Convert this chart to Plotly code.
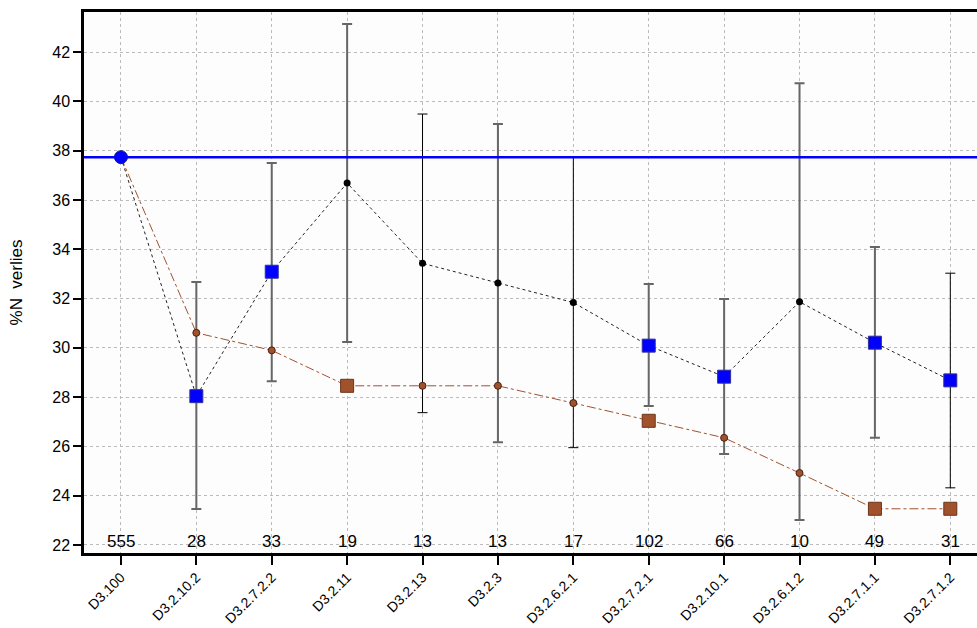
import plotly.graph_objects as go

categories = ["D3.100", "D3.2.10.2", "D3.2.7.2.2", "D3.2.11", "D3.2.13", "D3.2.3",
              "D3.2.6.2.1", "D3.2.7.2.1", "D3.2.10.1", "D3.2.6.1.2", "D3.2.7.1.1", "D3.2.7.1.2"]
counts = [555, 28, 33, 19, 13, 13, 17, 102, 66, 10, 49, 31]
mean_values = [37.74, 28.04, 33.09, 36.69, 33.43, 32.63, 31.84, 30.09, 28.83, 31.87, 30.21, 28.68]
upper_values = [None, 32.67, 37.50, 43.14, 39.49, 39.08, 37.74, 32.59, 31.98, 40.74, 34.09, 33.03]
lower_values = [None, 23.46, 28.65, 30.24, 27.37, 26.17, 25.95, 27.64, 25.69, 23.01, 26.35, 24.32]
brown_values = [37.74, 30.61, 29.90, 28.46, 28.46, 28.46, 27.76, 27.04, 26.35, 24.92, 23.47, 23.47]
reference_value = 37.74
# marker kinds per point
mean_kind = ["circle", "sq", "sq", "dot", "dot", "dot", "dot", "sq", "sq", "dot", "sq", "sq"]
brown_kind = ["circle", "dot", "dot", "sq", "dot", "dot", "dot", "sq", "dot", "dot", "sq", "sq"]
thin_err = [False, False, False, False, True, False, True, False, False, False, False, True]

BLUE = "#0000FF"
BROWN = "#A0522D"
FONT = "Liberation Sans, Arial, sans-serif"

fig = go.Figure()

# error bars (two styles)
for thin in (False, True):
    xs, ys, up, dn = [], [], [], []
    for i, c in enumerate(categories):
        if upper_values[i] is None or thin_err[i] != thin:
            continue
        xs.append(c)
        ys.append(mean_values[i])
        up.append(upper_values[i] - mean_values[i])
        dn.append(mean_values[i] - lower_values[i])
    fig.add_trace(go.Scatter(
        x=xs, y=ys, mode="markers", marker=dict(size=1, opacity=0),
        error_y=dict(type="data", symmetric=False, array=up, arrayminus=dn,
                     color="#000000" if thin else "#666666",
                     thickness=1 if thin else 2, width=5),
        showlegend=False, hoverinfo="skip"))

# reference line
fig.add_shape(type="line", xref="paper", x0=0, x1=1, yref="y",
              y0=reference_value, y1=reference_value,
              line=dict(color=BLUE, width=2.5), layer="above")

# brown dash-dot series
fig.add_trace(go.Scatter(x=categories, y=brown_values, mode="lines",
                         line=dict(color=BROWN, width=1, dash="dashdot"),
                         showlegend=False))
# mean dotted series
fig.add_trace(go.Scatter(x=categories, y=mean_values, mode="lines",
                         line=dict(color="#222222", width=1, dash="dot"),
                         showlegend=False))

def pick(vals, kinds, k):
    return [categories[i] for i in range(len(vals)) if kinds[i] == k], \
           [vals[i] for i in range(len(vals)) if kinds[i] == k]

x, y = pick(brown_values, brown_kind, "dot")
fig.add_trace(go.Scatter(x=x, y=y, mode="markers",
                         marker=dict(symbol="circle", size=7, color=BROWN,
                                     line=dict(color="#4a2010", width=1)),
                         showlegend=False))
x, y = pick(brown_values, brown_kind, "sq")
fig.add_trace(go.Scatter(x=x, y=y, mode="markers",
                         marker=dict(symbol="square", size=13, color=BROWN,
                                     line=dict(color="#6b3318", width=1)),
                         showlegend=False))
x, y = pick(mean_values, mean_kind, "dot")
fig.add_trace(go.Scatter(x=x, y=y, mode="markers",
                         marker=dict(symbol="circle", size=7, color="#000000"),
                         showlegend=False))
x, y = pick(mean_values, mean_kind, "sq")
fig.add_trace(go.Scatter(x=x, y=y, mode="markers",
                         marker=dict(symbol="square", size=13, color=BLUE,
                                     line=dict(color="#3030a0", width=1)),
                         showlegend=False))
x, y = pick(mean_values, mean_kind, "circle")
fig.add_trace(go.Scatter(x=x, y=y, mode="markers",
                         marker=dict(symbol="circle", size=13, color=BLUE,
                                     line=dict(color="#202080", width=1)),
                         showlegend=False))

for c, n in zip(categories, counts):
    fig.add_annotation(x=c, y=22.14, text=str(n), showarrow=False,
                       yanchor="middle", xanchor="center",
                       font=dict(family=FONT, size=17, color="#000000"))

fig.update_layout(
    width=977, height=628,
    margin=dict(l=84, r=0, t=12, b=75, autoexpand=False),
    paper_bgcolor="white", plot_bgcolor="#FDFDFD",
    font=dict(family=FONT, color="#000000"),
    xaxis=dict(type="category", categoryorder="array", categoryarray=categories,
               range=[-0.49, 11.354], tickangle=-45, automargin=False,
               tickfont=dict(size=14), ticklabelstandoff=-1,
               showgrid=True, gridcolor="#BBBBBB",
               griddash="dot", gridwidth=1, showline=True, linecolor="#000000",
               linewidth=2.5, mirror=True, ticks="outside", ticklen=9,
               tickwidth=2, tickcolor="#000000", zeroline=False),
    yaxis=dict(range=[21.675, 43.63], tickvals=list(range(22, 43, 2)), automargin=False,
               tickfont=dict(size=16), showgrid=True, gridcolor="#BBBBBB",
               griddash="dot", gridwidth=1, showline=True, linecolor="#000000",
               linewidth=2.5, mirror=False, ticks="outside", ticklen=8,
               tickwidth=2, tickcolor="#000000", zeroline=False,
               title=dict(text="%N  verlies", font=dict(size=17), standoff=26)),
)

fig.write_html("out.html", config={"displayModeBar": False},
               post_script="document.body.style.margin='0';document.body.style.overflow='hidden';")
